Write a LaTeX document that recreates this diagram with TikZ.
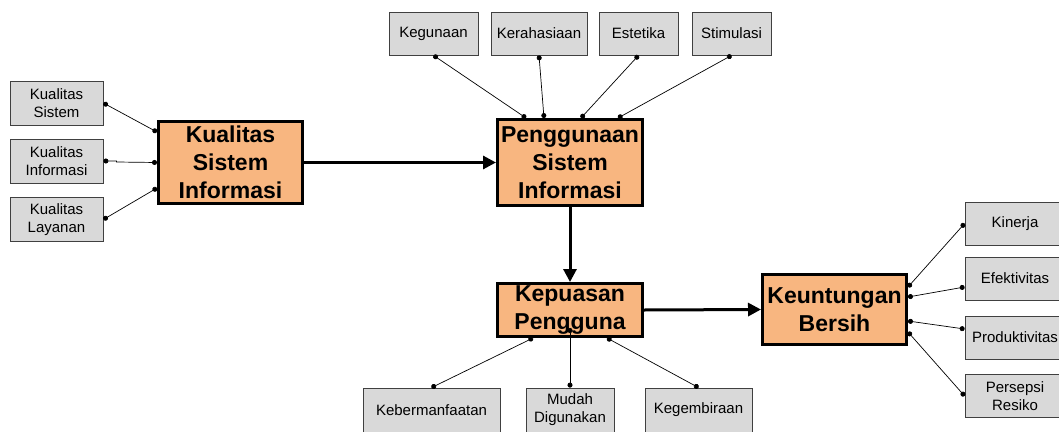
\documentclass[tikz,border=0pt]{standalone}
\usepackage{fontspec}
\setmainfont{Liberation Sans}
\usetikzlibrary{arrows.meta}
\definecolor{boxorange}{RGB}{248,182,128}
\definecolor{boxgray}{RGB}{217,217,217}
\begin{document}
\begin{tikzpicture}[x=1pt,y=-1pt,
 mainbox/.style={draw=black,line width=3pt,fill=boxorange,inner sep=0pt,align=center,font=\fontsize{23}{28}\selectfont\bfseries},
 subbox/.style={draw=black!75,line width=0.8pt,fill=boxgray,inner sep=0pt,align=center,font=\fontsize{15}{18}\selectfont},
 link/.style={draw=black,line width=0.7pt,{Circle[length=5pt]}-{Circle[length=5pt]}},
 flow/.style={draw=black,line width=3pt,-{Triangle[length=13pt,width=13pt]}}]
\useasboundingbox (0,0) rectangle (1059,431);
\clip (0,0) rectangle (1059,431);
\fill[white] (0,0) rectangle (1059,431);

% main boxes
\node[mainbox,minimum width=144pt,minimum height=82pt] (ksi) at (230.5,162.5) {Kualitas\\Sistem\\Informasi};
\node[mainbox,minimum width=145pt,minimum height=86pt] (peng) at (570,162.5) {Penggunaan\\Sistem\\Informasi};
\node[mainbox,minimum width=145pt,minimum height=53pt] (kep) at (570,310) {Kepuasan\\Pengguna};
\node[mainbox,minimum width=144pt,minimum height=70pt] (keu) at (834.5,309.5) {Keuntungan\\Bersih};

% left boxes
\node[subbox,minimum width=93pt,minimum height=44pt] (ks) at (56.5,103) {Kualitas\\Sistem};
\node[subbox,minimum width=93pt,minimum height=44pt] (ki) at (56.5,161) {Kualitas\\Informasi};
\node[subbox,minimum width=93pt,minimum height=44pt] (kl) at (56.5,219.5) {Kualitas\\Layanan};

% top boxes
\node[subbox,minimum width=89pt,minimum height=43pt] (keg) at (433.5,33.5) {Kegunaan};
\node[subbox,minimum width=96pt,minimum height=43pt] (ker) at (539,33.5) {Kerahasiaan};
\node[subbox,minimum width=79pt,minimum height=43pt] (est) at (638.5,33.5) {Estetika};
\node[subbox,minimum width=79pt,minimum height=43pt] (sti) at (731.5,33.5) {Stimulasi};

% bottom boxes
\node[subbox,minimum width=137pt,minimum height=44pt] (keb) at (431.5,410) {Kebermanfaatan};
\node[subbox,minimum width=88pt,minimum height=44pt] (mud) at (570,410) {Mudah\\Digunakan};
\node[subbox,minimum width=107pt,minimum height=44pt] (kgb) at (698.5,410) {Kegembiraan};

% right boxes
\node[subbox,minimum width=100pt,minimum height=43pt] (kin) at (1015,223.5) {Kinerja};
\node[subbox,minimum width=100pt,minimum height=43pt] (efe) at (1015,278.5) {Efektivitas};
\node[subbox,minimum width=100pt,minimum height=43pt] (pro) at (1015,337.5) {Produktivitas};
\node[subbox,minimum width=100pt,minimum height=43pt] (per) at (1015,396) {Persepsi\\Resiko};

% flows
\draw[flow] (ksi.east) -- (peng.west);
\draw[flow] (peng.south) -- (kep.north);
\draw[flow] (kep.east) -- (keu.west);

% links
\draw[link] (ks.east) -- ([yshift=30.5]ksi.west);
\draw[link] (ki.east) -- ++(13,0) -- ++(0,1) -- (ksi.west);
\draw[link] (kl.east) -- ([yshift=-25.5]ksi.west);

\draw[link] (keg.south) -- ([xshift=-44pt]peng.north);
\draw[link] (ker.south) -- ([xshift=-26pt]peng.north);
\draw[link] (est.south) -- ([xshift=11pt]peng.north);
\draw[link] (sti.south) -- ([xshift=48pt]peng.north);

\draw[link] (keb.north) -- ([xshift=-37pt]kep.south);
\draw[link] (mud.north) -- ([yshift=10pt]kep.south);
\draw[link] (kgb.north) -- ([xshift=37pt]kep.south);

\draw[link] ([yshift=22.5pt]keu.east) -- (kin.west);
\draw[link] ([yshift=12.5pt]keu.east) -- ([yshift=-8.5pt]efe.west);
\draw[link] ([yshift=-11.5pt]keu.east) -- ([yshift=8.5pt]pro.west);
\draw[link] ([yshift=-22.5pt]keu.east) -- (per.west);
\end{tikzpicture}
\end{document}
